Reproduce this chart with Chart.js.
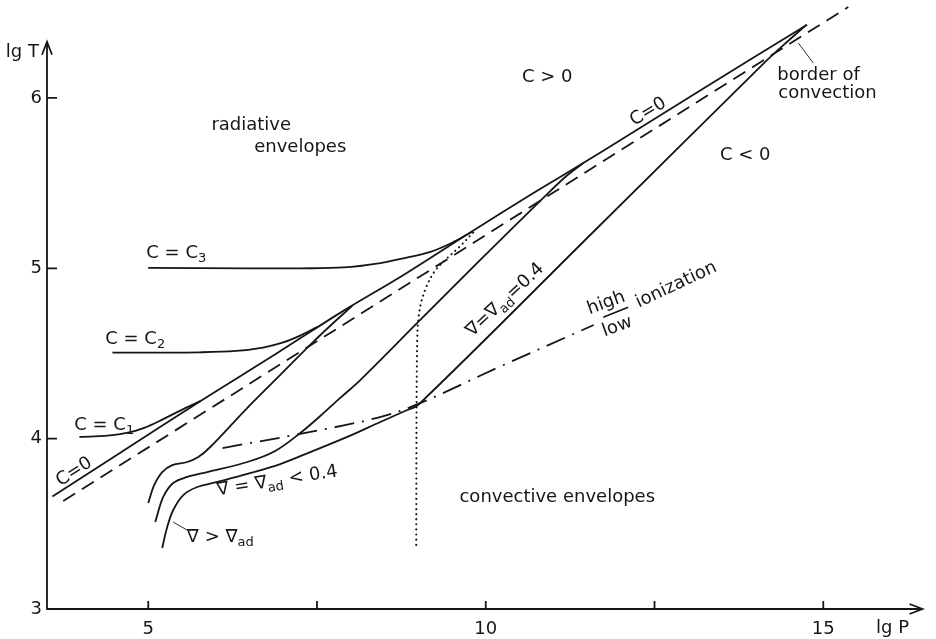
<!DOCTYPE html>
<html lang="en">
<head>
<meta charset="UTF-8">
<title>lg T - lg P: radiative and convective envelopes</title>
<script src="https://cdn.jsdelivr.net/npm/chart.js"></script>
<style>
  html, body { margin: 0; padding: 0; background: #ffffff; }
  #wrap { width: 936px; height: 639px; }
</style>
</head>
<body>
<div id="wrap"><canvas id="chart" width="936" height="639"></canvas></div>
<script>
  // axis ranges and ticks
  const xMin = 3.5, xMax = 16.67, xArrow = 16.47;
  const yMin = 3, yMax = 6.575, yArrow = 6.33;
  const xTicks = [5, 7.5, 10, 12.5, 15];
  const xTickLabels = ['5', '', '10', '', '15'];
  const yTicks = [3, 4, 5, 6];
  const yTickLabels = ['3', '4', '5', '6'];

  // border of convection (dashed)
  const borderP = [3.74, 15.37];
  const borderT = [3.634, 6.534];

  // C = 0
  const c0P = [3.58, 4.5, 5.77, 6.9, 7.89, 8.8, 9.77, 10.7, 11.7, 13.2, 14.76];
  const c0T = [3.66, 3.895, 4.22, 4.50, 4.75, 4.965, 5.21, 5.44, 5.68, 6.05, 6.43];

  // C = C1, C2, C3
  const c1P = [3.98, 4.4, 4.7, 4.95, 5.2, 5.45, 5.77];
  const c1T = [4.01, 4.018, 4.035, 4.065, 4.11, 4.16, 4.22];
  const c2P = [4.47, 5.0, 5.77, 6.3, 6.7, 7.0, 7.25, 7.5];
  const c2T = [4.505, 4.505, 4.507, 4.515, 4.535, 4.565, 4.605, 4.655];
  const c3P = [5.0, 6.5, 7.25, 7.9, 8.44, 8.8, 9.18, 9.5, 9.8];
  const c3T = [5.002, 5.0, 5.0, 5.005, 5.031, 5.06, 5.096, 5.15, 5.215];

  // convective envelopes
  const n1P = [5.0, 5.089, 5.207, 5.356, 5.578, 5.741, 5.919, 6.437, 6.956, 7.444, 7.741, 8.022];
  const n1T = [3.622, 3.728, 3.804, 3.845, 3.863, 3.892, 3.951, 4.168, 4.374, 4.568, 4.679, 4.779];
  const n2P = [5.104, 5.222, 5.37, 5.578, 5.874, 6.467, 6.881, 7.252, 7.548, 7.844, 8.141, 9.0, 9.919, 10.852, 11.178, 11.444];
  const n2T = [3.511, 3.658, 3.74, 3.775, 3.804, 3.863, 3.928, 4.033, 4.133, 4.239, 4.344, 4.685, 5.049, 5.413, 5.536, 5.618];
  const n3P = [5.207, 5.281, 5.37, 5.519, 5.726, 6.022, 6.467, 6.956, 7.444, 7.948, 8.437, 8.837, 9.0, 11.6, 14.17, 14.511, 14.748];
  const n3T = [3.358, 3.481, 3.581, 3.669, 3.716, 3.746, 3.793, 3.851, 3.928, 4.01, 4.098, 4.168, 4.198, 5.216, 6.223, 6.346, 6.429];

  // high / low ionization border (dash-dot)
  const ionP = [6.1, 7.25, 8.39, 9.0, 10.2, 11.6];
  const ionT = [3.945, 4.028, 4.122, 4.204, 4.421, 4.667];

  // dotted curve
  const dotP = [8.97, 8.975, 8.985, 9.0, 9.044, 9.119, 9.237, 9.4, 9.593, 9.85];
  const dotT = [3.376, 4.204, 4.579, 4.697, 4.802, 4.89, 4.979, 5.049, 5.119, 5.225];

  const ink = '#161616';
  const font = '"DejaVu Sans", sans-serif';

  function pts(P, T) {
    return P.map((p, i) => ({ x: p, y: T[i] }));
  }

  function curve(P, T, dash, cap, width) {
    return {
      data: pts(P, T),
      borderColor: ink,
      borderWidth: width || 1.8,
      borderDash: dash || [],
      borderCapStyle: cap || 'butt',
      pointRadius: 0,
      fill: false,
      clip: false,
      tension: 0.35
    };
  }

  // text labels placed in data coordinates
  const notes = [
    { parts: [['radiative']], p: 6.526, t: 5.842 },
    { parts: [['envelopes']], p: 7.252, t: 5.712 },
    { parts: [['C = C'], ['3', 1]], p: 5.415, t: 5.09 },
    { parts: [['C = C'], ['2', 1]], p: 4.807, t: 4.585 },
    { parts: [['C = C'], ['1', 1]], p: 4.348, t: 4.08 },
    { parts: [['C=0']], p: 3.904, t: 3.804, a: -33 },
    { parts: [['C > 0']], p: 10.911, t: 6.123 },
    { parts: [['C=0']], p: 12.407, t: 5.918, a: -31 },
    { parts: [['C < 0']], p: 13.844, t: 5.665 },
    { parts: [['border of']], p: 14.319, t: 6.135, left: true },
    { parts: [['convection']], p: 14.333, t: 6.029, left: true },
    { parts: [['∇=∇'], ['ad', 1], ['=0.4']], p: 10.289, t: 4.814, a: -43 },
    { parts: [['high']], p: 11.785, t: 4.796, a: -20 },
    { parts: [['low']], p: 11.948, t: 4.656, a: -20 },
    { parts: [['ionization']], p: 12.822, t: 4.902, a: -25 },
    { parts: [['∇ = ∇'], ['ad', 1], [' < 0.4']], p: 6.911, t: 3.751, a: -9 },
    { parts: [['∇ > ∇'], ['ad', 1]], p: 6.067, t: 3.423 },
    { parts: [['convective envelopes']], p: 11.059, t: 3.658 }
  ];

  // thin leader lines and the fraction bar
  const leaders = [
    { p1: 5.37, t1: 3.51, p2: 5.578, t2: 3.463, w: 0.9 },
    { p1: 14.63, t1: 6.323, p2: 14.852, t2: 6.205, w: 0.9 },
    { p1: 11.74, t1: 4.713, p2: 12.11, t2: 4.772, w: 1.6 }
  ];

  function drawRich(ctx, parts, x, y, angle, left) {
    const main = '18px ' + font, sub = '13px ' + font;
    let w = 0;
    parts.forEach(pt => { ctx.font = pt[1] ? sub : main; w += ctx.measureText(pt[0]).width; });
    ctx.save();
    ctx.translate(x, y);
    ctx.rotate((angle || 0) * Math.PI / 180);
    ctx.textBaseline = 'middle';
    ctx.textAlign = 'left';
    let cx = left ? 0 : -w / 2;
    parts.forEach(pt => {
      ctx.font = pt[1] ? sub : main;
      ctx.fillText(pt[0], cx, pt[1] ? 6 : 0);
      cx += ctx.measureText(pt[0]).width;
    });
    ctx.restore();
  }

  const decor = {
    id: 'decor',
    afterDraw(chart) {
      const { ctx, scales: { x, y } } = chart;
      const x0 = x.getPixelForValue(xMin), y0 = y.getPixelForValue(yMin);
      const yt = y.getPixelForValue(yArrow), xr = x.getPixelForValue(xArrow);
      ctx.save();
      ctx.strokeStyle = ink;
      ctx.fillStyle = ink;
      ctx.lineWidth = 1.8;
      ctx.lineCap = 'butt';
      ctx.beginPath();
      // axes
      ctx.moveTo(x0, yt); ctx.lineTo(x0, y0); ctx.lineTo(xr, y0);
      // arrows
      ctx.moveTo(x0 - 5, yt + 13); ctx.lineTo(x0, yt); ctx.lineTo(x0 + 5, yt + 13);
      ctx.moveTo(xr - 13, y0 - 5); ctx.lineTo(xr, y0); ctx.lineTo(xr - 13, y0 + 5);
      // tick marks, drawn inward
      yTicks.forEach(v => {
        if (v === yMin) return;
        const py = y.getPixelForValue(v);
        ctx.moveTo(x0, py); ctx.lineTo(x0 + 10, py);
      });
      xTicks.forEach(v => {
        const px = x.getPixelForValue(v);
        ctx.moveTo(px, y0); ctx.lineTo(px, y0 - 8);
      });
      ctx.stroke();

      leaders.forEach(l => {
        ctx.lineWidth = l.w;
        ctx.beginPath();
        ctx.moveTo(x.getPixelForValue(l.p1), y.getPixelForValue(l.t1));
        ctx.lineTo(x.getPixelForValue(l.p2), y.getPixelForValue(l.t2));
        ctx.stroke();
      });

      // axis titles
      ctx.font = '18px ' + font;
      ctx.textBaseline = 'middle';
      ctx.textAlign = 'right';
      ctx.fillText('lg T', x0 - 8, yt + 11);
      ctx.textAlign = 'center';
      ctx.fillText('lg P', xr - 30, y0 + 19);

      notes.forEach(n => {
        drawRich(ctx, n.parts, x.getPixelForValue(n.p), y.getPixelForValue(n.t), n.a, n.left);
      });
      ctx.restore();
    }
  };

  new Chart(document.getElementById('chart'), {
    type: 'line',
    data: {
      datasets: [
        curve(borderP, borderT, [14, 8]),
        curve(c0P, c0T),
        curve(c1P, c1T),
        curve(c2P, c2T),
        curve(c3P, c3T),
        curve(n1P, n1T),
        curve(n2P, n2T),
        curve(n3P, n3T),
        curve(ionP, ionT, [20, 8, 2, 8]),
        curve(dotP, dotT, [0.1, 5], 'round', 2.1)
      ]
    },
    options: {
      responsive: false,
      animation: false,
      layout: { padding: 0 },
      plugins: {
        legend: { display: false },
        tooltip: { enabled: false }
      },
      scales: {
        x: {
          type: 'linear',
          min: xMin,
          max: xMax,
          grid: { display: false, drawTicks: false },
          border: { display: false },
          afterBuildTicks: s => { s.ticks = xTicks.map(v => ({ value: v })); },
          afterFit: s => { s.height = 30; s.paddingLeft = 0; s.paddingRight = 0; },
          ticks: {
            padding: 10,
            autoSkip: false,
            maxRotation: 0,
            color: ink,
            font: { family: font, size: 18 },
            callback: (v) => xTickLabels[xTicks.indexOf(v)]
          }
        },
        y: {
          type: 'linear',
          min: yMin,
          max: yMax,
          grid: { display: false, drawTicks: false },
          border: { display: false },
          afterBuildTicks: s => { s.ticks = yTicks.map(v => ({ value: v })); },
          afterFit: s => { s.width = 47; s.paddingTop = 0; s.paddingBottom = 0; },
          ticks: {
            padding: 5,
            color: ink,
            font: { family: font, size: 18 },
            callback: (v) => yTickLabels[yTicks.indexOf(v)]
          }
        }
      }
    },
    plugins: [decor]
  });
</script>
</body>
</html>
